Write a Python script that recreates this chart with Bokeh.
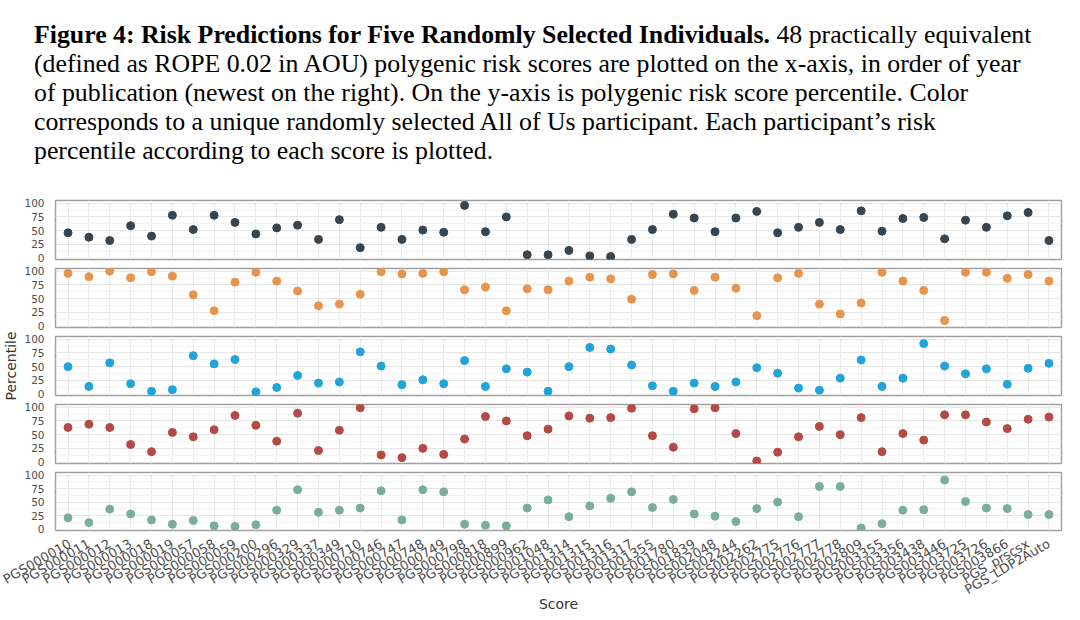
from bokeh.plotting import figure
from bokeh.models import Div, FactorRange, Range1d, FixedTicker
from bokeh.layouts import column
from bokeh.embed import file_html
from bokeh.resources import INLINE
import math

scores = ["PGS000010", "PGS000011", "PGS000012", "PGS000013", "PGS000018", "PGS000019",
          "PGS000057", "PGS000058", "PGS000059", "PGS000200", "PGS000296", "PGS000329",
          "PGS000337", "PGS000349", "PGS000710", "PGS000746", "PGS000747", "PGS000748",
          "PGS000749", "PGS000798", "PGS000818", "PGS000899", "PGS000962", "PGS001048",
          "PGS001314", "PGS001315", "PGS001316", "PGS001317", "PGS001355", "PGS001780",
          "PGS001839", "PGS002048", "PGS002244", "PGS002262", "PGS002775", "PGS002776",
          "PGS002777", "PGS002778", "PGS002809", "PGS003355", "PGS003356", "PGS003438",
          "PGS003446", "PGS003725", "PGS003726", "PGS003866", "PGS_prscsx", "PGS_LDP2Auto"]

participant_1 = [46, 38, 32, 59, 40, 78, 52, 78, 65, 44, 55, 60, 34, 70, 19, 56, 34, 51, 47, 96,
                 48, 75, 6, 6, 14, 4, 3, 34, 52, 80, 73, 48, 73, 85, 46, 56, 65, 52, 86, 49,
                 72, 74, 35, 69, 56, 77, 83, 32]
participant_2 = [96, 90, 100, 88, 99, 91, 57, 28, 80, 98, 82, 64, 37, 40, 58, 99, 95, 96, 99, 66,
                 71, 28, 68, 66, 82, 89, 86, 49, 94, 95, 65, 89, 69, 19, 88, 96, 40, 22, 42, 98,
                 82, 65, 10, 98, 98, 87, 94, 82]
participant_3 = [50, 14, 57, 19, 5, 8, 70, 55, 63, 4, 12, 34, 20, 22, 77, 51, 17, 26, 19, 61,
                 14, 46, 40, 5, 50, 85, 82, 53, 15, 5, 20, 14, 22, 48, 38, 11, 7, 29, 62, 14,
                 29, 92, 51, 37, 46, 18, 47, 56]
participant_4 = [63, 69, 63, 32, 19, 54, 46, 59, 85, 67, 38, 89, 21, 58, 99, 13, 8, 25, 14, 42,
                 83, 75, 48, 60, 84, 80, 81, 98, 48, 27, 97, 99, 52, 2, 18, 46, 65, 50, 81, 19,
                 52, 40, 86, 86, 73, 61, 78, 82]
participant_5 = [21, 12, 37, 28, 17, 9, 16, 6, 5, 8, 35, 73, 31, 35, 39, 71, 17, 73, 69, 9,
                 7, 6, 39, 54, 23, 43, 57, 69, 40, 55, 28, 24, 14, 38, 50, 23, 79, 79, 2, 10,
                 35, 36, 91, 51, 39, 38, 27, 27]

series = [participant_1, participant_2, participant_3, participant_4, participant_5]
colors = ["#36454f", "#e8944a", "#22a3da", "#b44a44", "#7aae97"]
y_ticks = [0, 25, 50, 75, 100]
y_minor = [12.5, 37.5, 62.5, 87.5]

caption = (
    "<div style=\"font-family:'Liberation Serif','Times New Roman',serif;font-size:25.8px;"
    "line-height:29px;color:#000;padding:15px 0 0 29px;white-space:nowrap;\">"
    "<b>Figure 4: Risk Predictions for Five Randomly Selected Individuals.</b> 48 practically equivalent<br>"
    "(defined as ROPE 0.02 in AOU) polygenic risk scores are plotted on the x-axis, in order of year<br>"
    "of publication (newest on the right). On the y-axis is polygenic risk score percentile. Color<br>"
    "corresponds to a unique randomly selected All of Us participant. Each participant\u2019s risk<br>"
    "percentile according to each score is plotted."
    "</div>"
)
div = Div(text=caption, width=1064, height=186)

W = 1064
figs = []
for k, (vals, col) in enumerate(zip(series, colors)):
    last = (k == len(series) - 1)
    h = 146 if last else 68
    p = figure(width=W, height=h,
               x_range=FactorRange(factors=scores, range_padding=0.1, range_padding_units="absolute"),
               y_range=Range1d(-2.6, 104.9),
               output_backend="svg", toolbar_location=None,
               min_border_left=52, min_border_right=3, min_border_top=4,
               min_border_bottom=81 if last else 5)
    p.scatter(x=scores, y=vals, size=8, color=col, line_color=col)
    p.background_fill_color = "white"
    p.outline_line_color = "#a0a0a0"
    p.outline_line_width = 1.5
    p.xgrid.grid_line_color = "#ebebeb"
    p.ygrid.grid_line_color = "#e6e6e6"
    p.ygrid.minor_grid_line_color = "#f3f3f3"
    p.yaxis.ticker = FixedTicker(ticks=y_ticks, minor_ticks=y_minor)
    p.yaxis.axis_line_color = None
    p.yaxis.major_tick_line_color = None
    p.yaxis.minor_tick_line_color = None
    p.yaxis.major_label_text_font = "DejaVu Sans"
    p.yaxis.major_label_text_font_size = "10.5px"
    p.yaxis.major_label_text_color = "#4d4d4d"
    p.yaxis.major_label_standoff = 5
    if k == 2:
        p.yaxis.axis_label = "Percentile"
        p.yaxis.axis_label_text_font = "DejaVu Sans"
        p.yaxis.axis_label_text_font_size = "14px"
        p.yaxis.axis_label_text_font_style = "normal"
        p.yaxis.axis_label_text_color = "#333333"
        p.yaxis.axis_label_standoff = 2
    p.xaxis.axis_line_color = None
    p.xaxis.major_tick_line_color = None
    p.xaxis.minor_tick_line_color = None
    if last:
        p.xaxis.major_label_orientation = math.pi / 6
        p.xaxis.major_label_text_font = "DejaVu Sans"
        p.xaxis.major_label_text_font_size = "13px"
        p.xaxis.major_label_text_color = "#4d4d4d"
        p.xaxis.major_label_standoff = 6
        p.xaxis.axis_label = "Score"
        p.xaxis.axis_label_text_font = "DejaVu Sans"
        p.xaxis.axis_label_text_font_size = "14px"
        p.xaxis.axis_label_text_font_style = "normal"
        p.xaxis.axis_label_text_color = "#333333"
        p.xaxis.axis_label_standoff = -11
    else:
        p.xaxis.visible = False
    figs.append(p)

layout = column(div, *figs, spacing=0)
open("out.html", "w").write(file_html(layout, INLINE))
